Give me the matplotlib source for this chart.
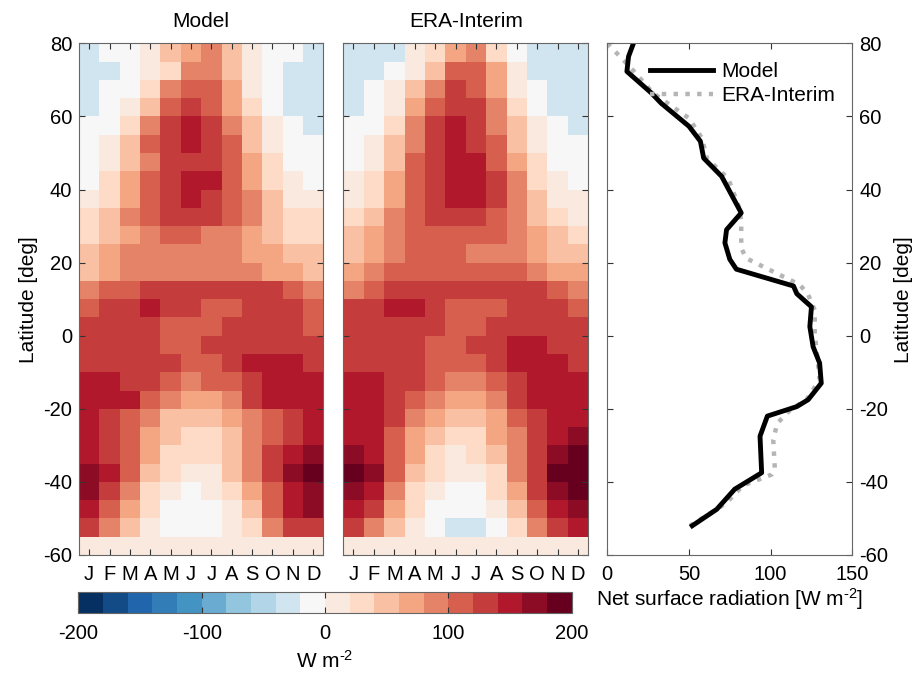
from matplotlib import pyplot as plt
from matplotlib.colors import BoundaryNorm, ListedColormap, to_rgb
import numpy as np

plt.rcParams['font.family'] = ['Liberation Sans', 'DejaVu Sans']
plt.rcParams['font.size'] = 14.5
plt.rcParams['axes.unicode_minus'] = False
plt.rcParams['mathtext.fontset'] = 'custom'
plt.rcParams['mathtext.rm'] = 'Liberation Sans'
plt.rcParams['mathtext.it'] = 'Liberation Sans'
plt.rcParams['mathtext.bf'] = 'Liberation Sans:bold'

months = ['J', 'F', 'M', 'A', 'M', 'J', 'J', 'A', 'S', 'O', 'N', 'D']
lat_edges = np.arange(80, -61, -5)   # rows go from 80N down to 60S

# net surface radiation [W m-2], one row per 5 deg band, north to south
model_field = np.array([
    [-30, -10, -10, 10, 50, 70, 90, 50, 10, -10, -10, -30],
    [-30, -30, -10, 10, 30, 90, 90, 50, 10, -10, -30, -30],
    [-30, -10, -10, 30, 90, 110, 110, 70, 10, -10, -30, -30],
    [-30, -10, 10, 50, 110, 130, 110, 70, 30, -10, -30, -30],
    [-10, -10, 30, 90, 130, 150, 130, 90, 50, 10, -10, -30],
    [-10, 10, 50, 110, 130, 150, 130, 110, 50, 10, -10, -10],
    [-10, 10, 50, 90, 130, 130, 130, 110, 70, 30, -10, -10],
    [-10, 30, 70, 110, 130, 150, 150, 110, 70, 30, 10, -10],
    [10, 30, 70, 110, 130, 150, 130, 110, 90, 50, 10, 10],
    [30, 50, 90, 110, 130, 130, 130, 110, 90, 50, 30, 30],
    [30, 50, 70, 90, 110, 110, 90, 90, 70, 50, 30, 30],
    [50, 70, 90, 90, 90, 90, 90, 90, 70, 70, 50, 50],
    [50, 70, 90, 90, 90, 90, 90, 90, 90, 70, 70, 50],
    [90, 110, 110, 130, 130, 130, 130, 130, 130, 130, 110, 90],
    [110, 130, 130, 150, 130, 130, 110, 110, 130, 130, 130, 110],
    [130, 130, 130, 130, 110, 110, 110, 130, 130, 130, 130, 110],
    [130, 130, 130, 130, 110, 110, 130, 130, 130, 130, 130, 130],
    [130, 130, 130, 130, 130, 110, 110, 130, 150, 150, 150, 130],
    [150, 150, 130, 130, 110, 90, 110, 110, 130, 150, 150, 150],
    [150, 150, 150, 110, 90, 70, 70, 90, 130, 150, 150, 150],
    [150, 130, 110, 90, 50, 50, 50, 70, 90, 110, 130, 150],
    [150, 130, 110, 70, 50, 30, 30, 50, 90, 110, 130, 150],
    [150, 130, 110, 70, 30, 30, 30, 50, 90, 130, 150, 170],
    [170, 150, 110, 50, 30, 10, 10, 50, 90, 130, 170, 190],
    [170, 130, 90, 30, 10, -10, 10, 30, 70, 110, 150, 170],
    [150, 110, 70, 30, -10, -10, -10, 10, 50, 110, 150, 170],
    [130, 90, 50, 10, -10, -10, -10, 10, 30, 90, 130, 130],
    [10, 10, 10, 10, 10, 10, 10, 10, 10, 10, 10, 10],
])

era_field = np.array([
    [-30, -30, -30, 10, 30, 70, 90, 30, -10, -30, -30, -30],
    [-30, -30, -10, 10, 50, 110, 110, 70, 10, -30, -30, -30],
    [-30, -10, 10, 50, 90, 130, 110, 70, 10, -10, -30, -30],
    [-30, -10, 10, 70, 110, 130, 130, 90, 30, -10, -30, -30],
    [-10, -10, 30, 90, 130, 150, 130, 90, 50, 10, -10, -30],
    [-10, 10, 50, 90, 130, 150, 130, 110, 50, 10, -10, -10],
    [-10, 10, 50, 110, 130, 150, 150, 110, 70, 30, -10, -10],
    [10, 30, 70, 110, 130, 150, 150, 130, 90, 30, 10, -10],
    [10, 30, 70, 110, 130, 150, 150, 130, 90, 50, 10, 10],
    [30, 50, 90, 110, 130, 130, 130, 110, 90, 50, 30, 10],
    [50, 70, 90, 110, 110, 110, 110, 110, 90, 70, 50, 30],
    [50, 70, 90, 110, 110, 110, 90, 90, 90, 70, 50, 50],
    [70, 90, 110, 110, 110, 110, 110, 110, 110, 90, 70, 70],
    [90, 110, 130, 130, 130, 130, 130, 130, 130, 130, 110, 90],
    [130, 130, 150, 150, 130, 110, 110, 110, 130, 130, 130, 110],
    [130, 130, 130, 130, 130, 110, 110, 130, 130, 130, 130, 130],
    [130, 130, 130, 130, 110, 110, 130, 130, 150, 150, 130, 130],
    [130, 130, 130, 130, 110, 110, 110, 130, 150, 150, 150, 130],
    [150, 150, 130, 130, 110, 90, 90, 110, 130, 150, 150, 150],
    [150, 150, 130, 110, 90, 70, 70, 90, 130, 150, 150, 150],
    [150, 150, 130, 90, 70, 50, 50, 70, 110, 130, 150, 150],
    [150, 150, 110, 70, 50, 30, 30, 70, 90, 130, 150, 170],
    [170, 150, 110, 70, 30, 10, 30, 50, 90, 130, 170, 190],
    [190, 170, 110, 50, 30, 10, 10, 30, 90, 130, 190, 190],
    [170, 150, 90, 30, 10, -10, -10, 30, 70, 130, 170, 190],
    [150, 130, 70, 30, -10, -10, -10, 10, 50, 110, 150, 170],
    [130, 90, 50, 10, -10, -30, -30, -10, 30, 90, 130, 150],
    [10, 10, 10, 10, 10, 10, 10, 10, 10, 10, 10, 10],
])

# annual mean profiles
model_lat = [80, 76.4, 72.3, 66.4, 63.6, 57.3, 53.2, 48.6, 43.6, 33.6, 29, 25.4, 20.9, 18.2,
             13.6, 11.5, 7.9, 2.5, -3, -7.5, -13, -17.5, -19.4, -22, -27.5, -37.5, -42, -47.5, -52]
model_rad = [16, 13, 12, 27, 33, 50, 57, 59, 70, 82, 73, 72, 75, 79,
             114, 116, 125, 124, 126, 130, 131, 123, 116, 98, 93.5, 94.5, 78, 67, 52]
era_lat = [80, 73.5, 66.4, 59.5, 54, 48.5, 43, 34.8, 31.1, 24, 21.2, 13.9, 11.2, 7, 0.6,
           -7.5, -12, -17.5, -20.3, -24, -28.5, -36.6, -38, -41, -45.7, -47.5, -52]
era_rad = [0, 14, 28, 50, 58, 61, 74, 81, 82, 82, 85, 118, 123, 127, 127,
           129, 130, 122, 112, 104, 101.6, 102.6, 100.6, 83, 73, 67, 50.6]

# colorbrewer RdBu with midpoints added, 20 steps (white sits in the -20..0 bin)
brewer = ['#053061', '#2166ac', '#4393c3', '#92c5de', '#d1e5f0', '#f7f7f7',
          '#fddbc7', '#f4a582', '#d6604d', '#b2182b', '#67001f']
rgb = np.array([to_rgb(c) for c in brewer])
pos = np.linspace(0, 10, 21)
full = np.column_stack([np.interp(pos, np.arange(11), rgb[:, k]) for k in range(3)])
full = np.delete(full, 9, axis=0)
cmap = ListedColormap(full)
levels = np.arange(-200, 201, 20)
norm = BoundaryNorm(levels, cmap.N)
edge = '#666666'
unit = r'W m$^{\text{-2}}$'

fig = plt.figure(figsize=(9.21, 6.75), dpi=100)
ax1 = fig.add_axes([0.0858, 0.1778, 0.2653, 0.758])
ax2 = fig.add_axes([0.3727, 0.1778, 0.2660, 0.758])
ax3 = fig.add_axes([0.6594, 0.1778, 0.2660, 0.758])
cax = fig.add_axes([0.0850, 0.0914, 0.5357, 0.032])

x_edges = np.arange(0.5, 13, 1)
for ax, field, title in [(ax1, model_field, 'Model'), (ax2, era_field, 'ERA-Interim')]:
    mesh = ax.pcolormesh(x_edges, lat_edges, field, cmap=cmap, norm=norm)
    ax.set_xlim(0.5, 12.5)
    ax.set_ylim(-60, 80)
    ax.set_xticks(np.arange(1, 13))
    ax.set_xticklabels(months)
    ax.set_yticks(np.arange(-60, 81, 20))
    ax.set_title(title, pad=12, fontsize=15)
    ax.tick_params(direction='in', top=True, right=True, length=4, color='#333333', pad=5)
    ax.tick_params(axis='x', pad=7)
    for s in ax.spines.values():
        s.set_color(edge)
ax1.set_ylabel('Latitude [deg]', fontsize=15, labelpad=4)
ax2.set_yticklabels([])

ax3.plot(era_rad, era_lat, color='#b5b5b5', linestyle=':', linewidth=3.2, label='ERA-Interim')
ax3.plot(model_rad, model_lat, color='black', linewidth=3.5, label='Model')
ax3.set_xlim(0, 150)
ax3.set_ylim(-60, 80)
ax3.set_xticks([0, 50, 100, 150])
ax3.set_yticks(np.arange(-60, 81, 20))
ax3.yaxis.tick_right()
ax3.yaxis.set_label_position('right')
ax3.set_ylabel('Latitude [deg]', fontsize=15, labelpad=4)
ax3.set_xlabel('Net surface radiation [' + unit + ']', labelpad=2, fontsize=15)
ax3.tick_params(direction='in', top=True, left=True, right=True, length=4, color='#333333', pad=5)
ax3.tick_params(axis='x', pad=7)
for s in ax3.spines.values():
    s.set_color(edge)
handles, labels = ax3.get_legend_handles_labels()
ax3.legend(handles[::-1], labels[::-1], loc='upper left', bbox_to_anchor=(0.098, 1.0),
           frameon=False, fontsize=15, handlelength=3.0, handletextpad=0.4, labelspacing=0.25)

cb = fig.colorbar(mesh, cax=cax, orientation='horizontal', ticks=[-200, -100, 0, 100, 200])
cb.minorticks_off()
cb.outline.set_edgecolor(edge)
cb.ax.tick_params(direction='in', top=True, length=4, pad=8, color='#333333')
cb.set_label(unit, labelpad=5, fontsize=15)

plt.savefig('out.png', dpi=100)
